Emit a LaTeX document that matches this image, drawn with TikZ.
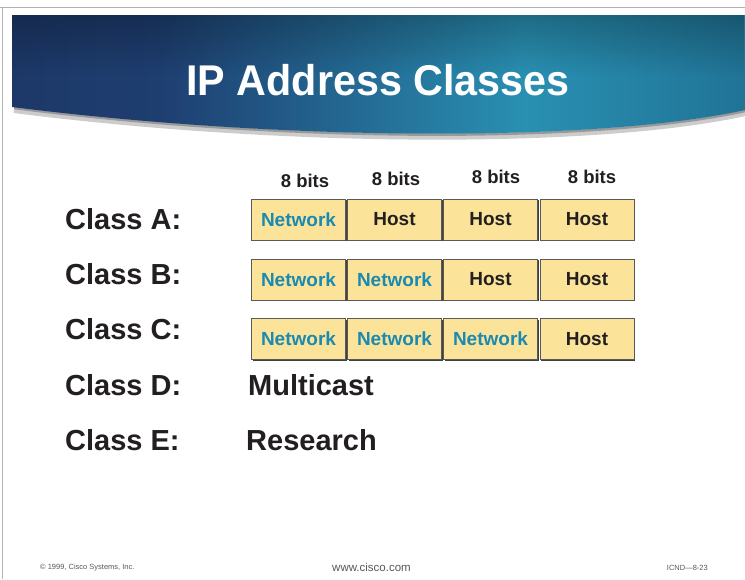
\documentclass[tikz,border=0pt]{standalone}
\usepackage{fontspec}
\setmainfont{Liberation Sans}
\usetikzlibrary{shadows,fadings}
\definecolor{navyA}{HTML}{1A2A55}
\definecolor{navyB}{HTML}{1E3E70}
\definecolor{tealC}{HTML}{2990B2}
\definecolor{tealD}{HTML}{1C6689}
\definecolor{darkE}{HTML}{0C1E33}
\definecolor{boxfill}{HTML}{FCE39A}
\definecolor{nettext}{HTML}{1A8AB0}
\definecolor{ink}{HTML}{231F20}
\pgfdeclarehorizontalshading{banner}{100bp}{color(0bp)=(navyA); color(35bp)=(navyB); color(60bp)=(tealC); color(82bp)=(tealD); color(100bp)=(darkE)}
\tikzset{
  field/.style={draw=black!65, line width=0.6pt, fill=boxfill, minimum width=94pt, minimum height=41pt, inner sep=0pt,
    font=\fontsize{19}{21}\selectfont\bfseries,
    drop shadow={shadow xshift=1.2pt, shadow yshift=-1.2pt, fill=black!75, opacity=1}},
  net/.style={field, text=nettext},
  host/.style={field, text=ink},
  bits/.style={font=\fontsize{18.5}{20}\selectfont\bfseries, text=ink, inner sep=0pt},
  cls/.style={font=\fontsize{29}{31}\selectfont\bfseries, text=ink, inner sep=0pt, anchor=west},
  foot/.style={font=\fontsize{7.5}{8}\selectfont, text=black!65, inner sep=0pt},
}
\begin{document}
\begin{tikzpicture}[x=1pt,y=-1pt]
\useasboundingbox (0,0) rectangle (745,579);
\fill[white] (0,0) rectangle (745,579);
% page frame
\draw[black!30, line width=1pt] (0,7) -- (745,7);
\draw[black!30, line width=0.8pt] (2,7) -- (2,579);
% banner shadow
\draw[black!20, line width=6pt] (14,110) .. controls (290,145) and (600,145) .. (745,113);
\draw[black!40, line width=2.5pt] (14,108) .. controls (290,143) and (600,143) .. (745,111);
% banner
\shade[shading=banner] (12,15) -- (745,15) -- (745,110) .. controls (600,142) and (290,142) .. (12,107) -- cycle;
\fill[black, opacity=0.25, path fading=south] (12,15) rectangle (745,75);
\node[text=white, font=\fontsize{43}{45}\selectfont\bfseries, inner sep=0pt, xscale=0.96] (title) at (378,80) {IP Address Classes};

% bit labels
\node[bits] (bit1) at (305,181) {8 bits};
\node[bits] (bit2) at (396,179) {8 bits};
\node[bits] (bit3) at (496,177) {8 bits};
\node[bits] (bit4) at (592,177) {8 bits};

% class labels
\node[cls] (ca) at (65,219) {Class A:};
\node[cls] (cb) at (65,274) {Class B:};
\node[cls] (cc) at (65,329) {Class C:};
\node[cls] (cd) at (65,385) {Class D:};
\node[cls] (ce) at (65,440) {Class E:};
\node[cls] (mc) at (248,385) {Multicast};
\node[cls] (rs) at (246,440) {Research};

% row A
\node[net]  (a1) at (298.5,219.5) {Network};
\node[host] (a2) at (394.5,219.5) {Host};
\node[host] (a3) at (490.5,219.5) {Host};
\node[host] (a4) at (587,219.5) {Host};
% row B
\node[net]  (b1) at (298.5,279.5) {Network};
\node[net]  (b2) at (394.5,279.5) {Network};
\node[host] (b3) at (490.5,279.5) {Host};
\node[host] (b4) at (587,279.5) {Host};
% row C
\node[net]  (c1) at (298.5,339) {Network};
\node[net]  (c2) at (394.5,339) {Network};
\node[net]  (c3) at (490.5,339) {Network};
\node[host] (c4) at (587,339) {Host};

% footer
\node[foot, anchor=west] (copy) at (40,568) {© 1999, Cisco Systems, Inc.};
\node[foot, font=\fontsize{11.5}{12}\selectfont, anchor=center] (www) at (371.5,567) {www.cisco.com};
\node[foot, anchor=east] (icnd) at (708,568) {ICND—8-23};
\end{tikzpicture}
\end{document}
